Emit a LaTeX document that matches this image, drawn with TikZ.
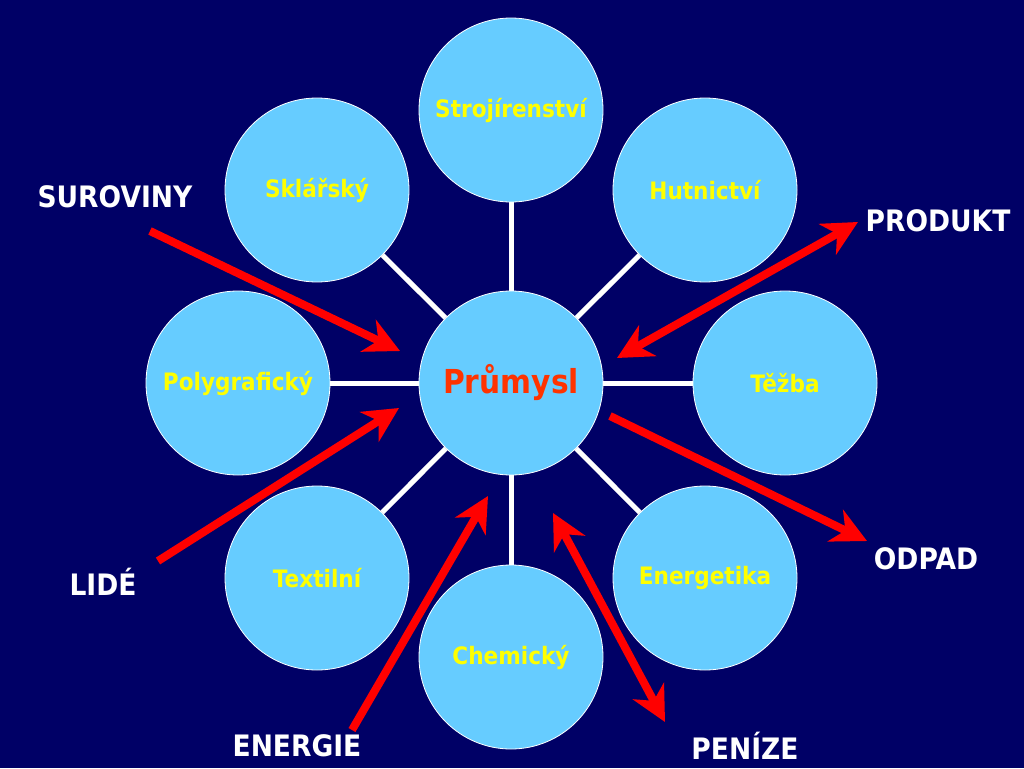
\documentclass[tikz,border=0pt]{standalone}
\usepackage{fontspec}
\setmainfont{DejaVu Sans}[FakeStretch=0.9]
\usetikzlibrary{arrows.meta}
\definecolor{navybg}{HTML}{000066}
\definecolor{skyb}{HTML}{66CCFF}
\definecolor{yel}{HTML}{FFFF00}
\definecolor{hubred}{HTML}{FF3300}
\definecolor{arred}{HTML}{FF0000}
\begin{document}
\begin{tikzpicture}[x=1pt,y=-1pt,
  bub/.style={circle, fill=skyb, draw=white, line width=0.8pt, minimum size=184pt,
    inner sep=0pt, text=yel, font=\bfseries\fontsize{24}{28}\selectfont},
  link/.style={draw=white, line width=5pt},
  tipA/.tip={Stealth[length=35pt,width=35pt,inset=11pt]},
  flow/.style={draw=arred, line width=8pt, -tipA},
  flowtwo/.style={draw=arred, line width=8pt, tipA-tipA},
  lbl/.style={text=white, inner sep=0pt, font=\bfseries\fontsize{29.5}{32}\selectfont}]
\fill[navybg] (0,0) rectangle (1024,768);
% circles
\node[bub, text=hubred, font=\bfseries\fontsize{33}{36}\selectfont] (c) at (511,383) {Průmysl};
\node[bub] (str) at (511,110) {Strojírenství};
\node[bub] (hut) at (705,190) {Hutnictví};
\node[bub] (tez) at (785,383) {Těžba};
\node[bub] (ene) at (705,578) {Energetika};
\node[bub] (che) at (511,657) {Chemický};
\node[bub] (tex) at (317,578) {Textilní};
\node[bub] (pol) at (238,383) {Polygrafický};
\node[bub] (skl) at (317,190) {Sklářský};
% white links
\foreach \n in {str,hut,tez,ene,che,tex,pol,skl}
  \draw[link] (c) -- (\n);
% labels
\node[lbl] (sur) at (115,197) {SUROVINY};
\node[lbl] (pro) at (938,221) {PRODUKT};
\node[lbl] (odp) at (926,559) {ODPAD};
\node[lbl] (lid) at (103,582) {LIDÉ};
\node[lbl] (enr) at (297,746) {ENERGIE};
\node[lbl] (pen) at (745,746) {PENÍZE};
% arrow ends
\coordinate (surA) at (150,231);
\coordinate (surB) at (400,351);
\coordinate (lidA) at (158,561);
\coordinate (lidB) at (399,408);
\coordinate (enrA) at (352,730);
\coordinate (enrB) at (488,496);
\coordinate (proA) at (617,358);
\coordinate (proB) at (858,222);
\coordinate (odpA) at (610,416);
\coordinate (odpB) at (867,541);
\coordinate (penA) at (553,513);
\coordinate (penB) at (665,722);
\draw[flow] (surA) -- (surB);
\draw[flow] (lidA) -- (lidB);
\draw[flow] (enrA) -- (enrB);
\draw[flow] (odpA) -- (odpB);
\draw[flowtwo] (proA) -- (proB);
\draw[flowtwo] (penA) -- (penB);
\end{tikzpicture}
\end{document}
